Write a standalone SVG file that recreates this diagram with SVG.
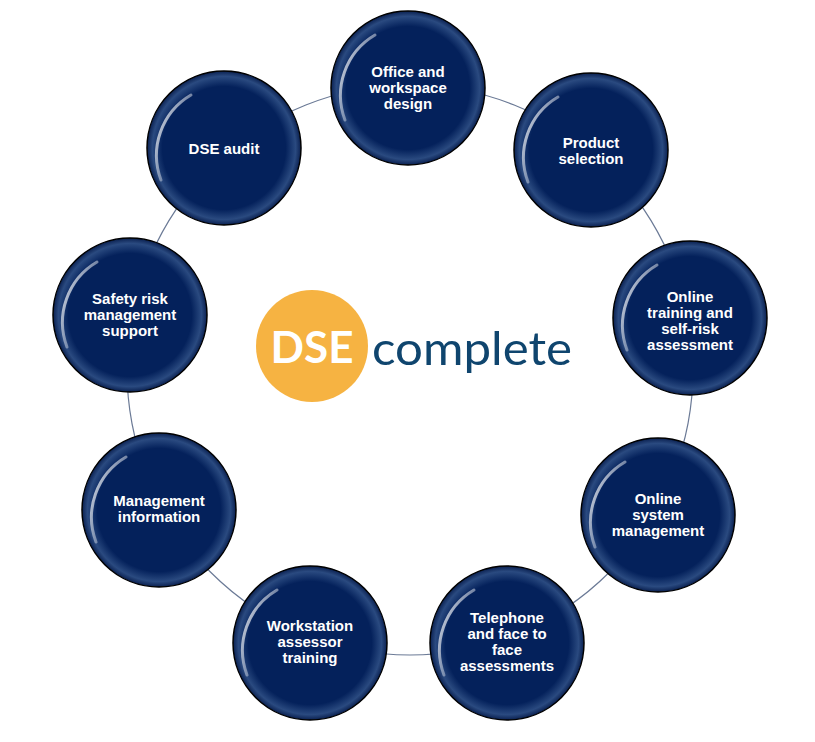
<svg xmlns="http://www.w3.org/2000/svg" width="815" height="742" viewBox="0 0 815 742">
<defs>
<radialGradient id="g" cx="0.5" cy="0.5" r="0.5">
<stop offset="0.8" stop-color="#04215b"/>
<stop offset="0.93" stop-color="#2a4a80"/>
<stop offset="1" stop-color="#0a2050"/>
</radialGradient>
<linearGradient id="hl" x1="0" y1="0" x2="1" y2="1">
<stop offset="0" stop-color="#ffffff" stop-opacity="0.9"/>
<stop offset="1" stop-color="#ffffff" stop-opacity="0"/>
</linearGradient>
</defs>
<style>
.n{fill:url(#g);stroke:#000;stroke-width:1.5}
.h{fill:none;stroke:url(#hl);stroke-width:3;stroke-linecap:round}
.t{fill:#fff;font-family:"Liberation Sans",Arial,sans-serif;font-weight:bold;font-size:15px;text-anchor:middle}
.c{fill:none;stroke:#6b7a96;stroke-width:1.2}
</style>
<rect width="815" height="742" fill="#fff"/>
<g id="connectors"><ellipse class="c" cx="410" cy="370" rx="283" ry="285"/></g>
<g id="logo">
<circle cx="312" cy="346" r="56" fill="#f6b342"/>
<text x="312" y="363" font-family="Lato,'Open Sans',sans-serif" font-weight="bold" font-size="44" fill="#fff" text-anchor="middle">DSE</text>
<text x="372" y="365" font-family="Lato,'Open Sans',sans-serif" font-size="47" fill="#0f456e" textLength="200" lengthAdjust="spacingAndGlyphs">complete</text>
</g>
<g id="n1"><circle class="n" cx="408" cy="88" r="77"/><path class="h" d="M345,120 A70,70 0 0 1 375,35"/><text class="t" x="408" y="77">Office and<tspan x="408" dy="16">workspace</tspan><tspan x="408" dy="16">design</tspan></text></g>
<g id="n2"><circle class="n" cx="591" cy="150" r="77"/><path class="h" d="M528,182 A70,70 0 0 1 558,97"/><text class="t" x="591" y="148">Product<tspan x="591" dy="16">selection</tspan></text></g>
<g id="n3"><circle class="n" cx="690" cy="318" r="77"/><path class="h" d="M627,350 A70,70 0 0 1 657,265"/><text class="t" x="690" y="302">Online<tspan x="690" dy="16">training and</tspan><tspan x="690" dy="16">self-risk</tspan><tspan x="690" dy="16">assessment</tspan></text></g>
<g id="n4"><circle class="n" cx="658" cy="515" r="77"/><path class="h" d="M595,547 A70,70 0 0 1 625,462"/><text class="t" x="658" y="504">Online<tspan x="658" dy="16">system</tspan><tspan x="658" dy="16">management</tspan></text></g>
<g id="n5"><circle class="n" cx="507" cy="643" r="77"/><path class="h" d="M444,675 A70,70 0 0 1 474,590"/><text class="t" x="507" y="623">Telephone<tspan x="507" dy="16">and face to</tspan><tspan x="507" dy="16">face</tspan><tspan x="507" dy="16">assessments</tspan></text></g>
<g id="n6"><circle class="n" cx="310" cy="643" r="77"/><path class="h" d="M247,675 A70,70 0 0 1 277,590"/><text class="t" x="310" y="631">Workstation<tspan x="310" dy="16">assessor</tspan><tspan x="310" dy="16">training</tspan></text></g>
<g id="n7"><circle class="n" cx="159" cy="510" r="77"/><path class="h" d="M96,542 A70,70 0 0 1 126,457"/><text class="t" x="159" y="506">Management<tspan x="159" dy="16">information</tspan></text></g>
<g id="n8"><circle class="n" cx="130" cy="315" r="77"/><path class="h" d="M67,347 A70,70 0 0 1 97,262"/><text class="t" x="130" y="304">Safety risk<tspan x="130" dy="16">management</tspan><tspan x="130" dy="16">support</tspan></text></g>
<g id="n9"><circle class="n" cx="224" cy="148" r="77"/><path class="h" d="M161,180 A70,70 0 0 1 191,95"/><text class="t" x="224" y="154">DSE audit</text></g>
</svg>
